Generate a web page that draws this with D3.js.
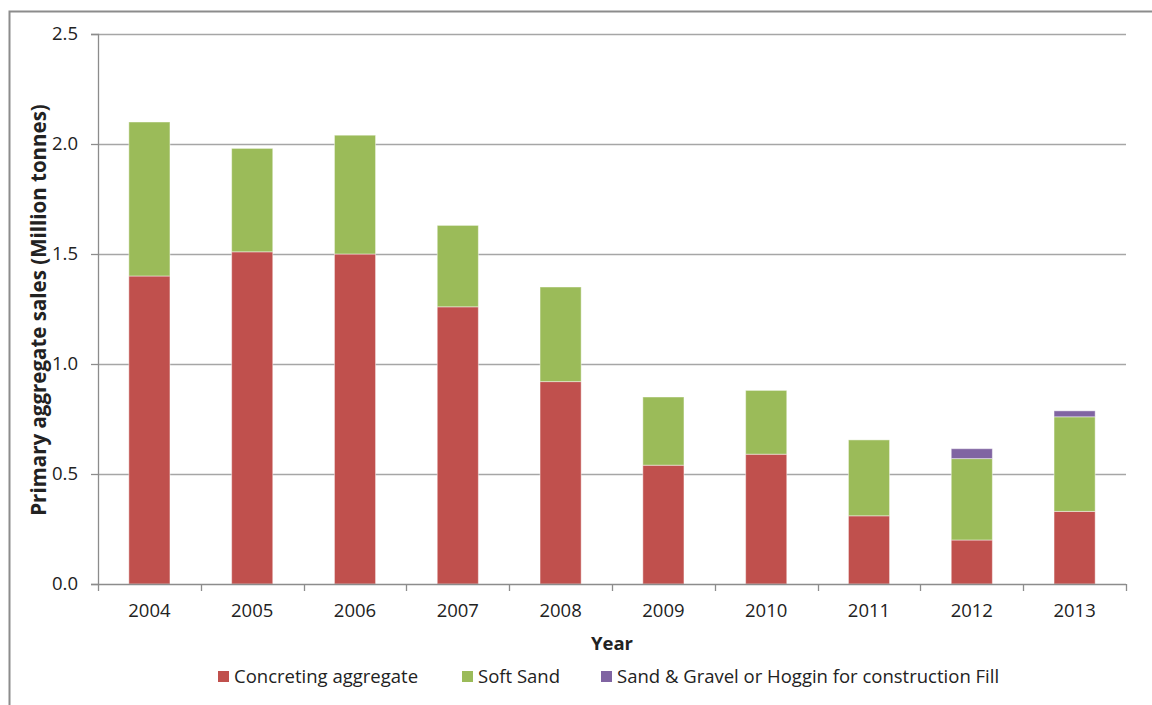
<!DOCTYPE html>
<html lang="en">
<head>
<meta charset="UTF-8">
<title>Primary aggregate sales</title>
<script src="https://d3js.org/d3.v7.min.js"></script>
<style>
  body { margin: 0; background: #fff; }
  svg text { font-family: "Open Sans", "Noto Sans", Arial, sans-serif; fill: #222; }
</style>
</head>
<body>
<svg id="chart" width="1152" height="705"></svg>
<script>
// data (million tonnes)
var years = ["2004", "2005", "2006", "2007", "2008", "2009", "2010", "2011", "2012", "2013"];
var concreting = [1.40, 1.51, 1.50, 1.26, 0.92, 0.54, 0.59, 0.31, 0.20, 0.33];
var softSand = [0.70, 0.47, 0.54, 0.37, 0.43, 0.31, 0.29, 0.345, 0.37, 0.43];
var gravelFill = [0, 0, 0, 0, 0, 0, 0, 0, 0.045, 0.027];
var seriesNames = ["Concreting aggregate", "Soft Sand", "Sand & Gravel or Hoggin for construction Fill"];
var seriesColors = ["#c0504d", "#9bbb59", "#8064a2"];
var yTicks = [0, 0.5, 1.0, 1.5, 2.0, 2.5];

var svg = d3.select("#chart");
var margin = {top: 34, right: 26, bottom: 121, left: 98};
var width = 1152 - margin.left - margin.right,
    height = 705 - margin.top - margin.bottom;
var fs = "18.5px";

// outer frame (cut off at right and bottom in the original)
svg.append("rect")
    .attr("x", 9.5).attr("y", 11.5)
    .attr("width", 1160).attr("height", 720)
    .attr("fill", "none")
    .attr("stroke", "#8c8c8c")
    .attr("stroke-width", 2);

var g = svg.append("g")
    .attr("transform", "translate(" + margin.left + "," + margin.top + ")");

var x = d3.scaleBand()
    .domain(years)
    .range([0, width])
    .paddingInner(0.6)
    .paddingOuter(0.3);

var y = d3.scaleLinear()
    .domain([0, 2.5])
    .range([height, 0]);

var table = years.map(function(yr, i) {
  return {year: yr, s0: concreting[i], s1: softSand[i], s2: gravelFill[i]};
});
var stack = d3.stack().keys(["s0", "s1", "s2"]);
var layers = stack(table);

// gridlines
g.append("g")
  .selectAll("line")
  .data(yTicks.slice(1))
  .enter().append("line")
    .attr("x1", 0).attr("x2", width)
    .attr("y1", function(d) { return Math.round(y(d)) + 0.5; })
    .attr("y2", function(d) { return Math.round(y(d)) + 0.5; })
    .attr("stroke", "#a6a6a6")
    .attr("stroke-width", 1.3);

// bars
g.selectAll("g.layer")
  .data(layers)
  .enter().append("g")
    .attr("class", "layer")
    .attr("fill", function(d, i) { return seriesColors[i]; })
  .selectAll("rect")
  .data(function(d) { return d; })
  .enter().append("rect")
    .attr("x", function(d) { return x(d.data.year); })
    .attr("width", x.bandwidth())
    .attr("y", function(d) { return y(d[1]); })
    .attr("height", function(d) { return Math.max(0, y(d[0]) - y(d[1])); })
    .attr("stroke", "rgba(255,255,255,0.45)")
    .attr("stroke-width", function(d) { return d[1] - d[0] > 0 ? 1 : 0; });

// y axis
var yAxis = g.append("g")
    .call(d3.axisLeft(y).tickValues(yTicks).tickSize(7).tickPadding(13)
      .tickFormat(d3.format(".1f")));
yAxis.select(".domain").attr("stroke", "#8c8c8c").attr("stroke-width", 1.3);
yAxis.selectAll(".tick line").attr("stroke", "#8c8c8c").attr("stroke-width", 1.3);
yAxis.selectAll(".tick text")
    .style("font-size", fs)
    .style("fill", "#222");

// x axis with tick marks between categories
var xAxisG = g.append("g")
    .attr("transform", "translate(0," + height + ")");
xAxisG.append("line")
    .attr("x1", 0).attr("x2", width)
    .attr("y1", 0.5).attr("y2", 0.5)
    .attr("stroke", "#8c8c8c").attr("stroke-width", 1.3);
xAxisG.selectAll("line.tick")
  .data(d3.range(years.length + 1))
  .enter().append("line")
    .attr("class", "tick")
    .attr("x1", function(i) { return Math.round(i * width / years.length) + 0.5; })
    .attr("x2", function(i) { return Math.round(i * width / years.length) + 0.5; })
    .attr("y1", 0).attr("y2", 7)
    .attr("stroke", "#8c8c8c").attr("stroke-width", 1.3);
xAxisG.selectAll("text")
  .data(years)
  .enter().append("text")
    .attr("x", function(d) { return x(d) + x.bandwidth() / 2; })
    .attr("y", 33)
    .attr("text-anchor", "middle")
    .style("font-size", fs)
    .text(function(d) { return d; });

// axis titles
svg.append("text")
    .attr("x", 612)
    .attr("y", 650)
    .attr("text-anchor", "middle")
    .style("font-size", fs)
    .style("font-weight", "bold")
    .text("Year");

svg.append("text")
    .attr("transform", "translate(46,310) rotate(-90)")
    .attr("text-anchor", "middle")
    .style("font-size", "20.5px")
    .style("font-weight", "bold")
    .text("Primary aggregate sales (Million tonnes)");

// legend
var legendX = [218, 462, 601];
var legend = svg.append("g");
var li = legend.selectAll("g")
  .data(seriesNames)
  .enter().append("g");
li.append("rect")
    .attr("x", function(d, i) { return legendX[i]; })
    .attr("y", 671)
    .attr("width", 11).attr("height", 11)
    .attr("fill", function(d, i) { return seriesColors[i]; });
li.append("text")
    .attr("x", function(d, i) { return legendX[i] + 16; })
    .attr("y", 683)
    .style("font-size", fs)
    .text(function(d) { return d; });
</script>
</body>
</html>
